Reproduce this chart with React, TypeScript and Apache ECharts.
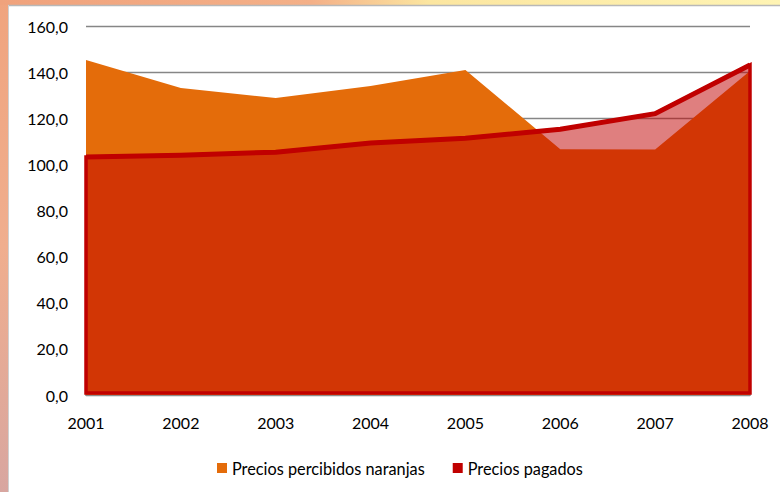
import React, { useEffect, useRef } from "react";
import * as echarts from "echarts";

const years = ["2001", "2002", "2003", "2004", "2005", "2006", "2007", "2008"];
const percibidosNaranjas = [145.3, 133.1, 128.8, 134.0, 140.9, 106.6, 106.4, 140.5];
const preciosPagados = [103.2, 104.0, 105.3, 109.3, 111.3, 115.2, 122.0, 143.1];
const yTicks = { min: 0, max: 160, interval: 20 };

export default function App() {
  const ref = useRef<HTMLDivElement>(null);
  useEffect(() => {
    if (!ref.current) return;
    const chart = echarts.init(ref.current, null, { renderer: "svg" });
    const font = "Lato, 'Open Sans', sans-serif";
    chart.setOption({
      animation: false,
      backgroundColor: "#ffffff",
      textStyle: { fontFamily: font },
      grid: { left: 86, right: 30, top: 26, bottom: 97, containLabel: false },
      legend: {
        left: 212,
        top: 455,
        itemWidth: 10,
        itemHeight: 10,
        itemGap: 28,
        icon: "rect",
        textStyle: { fontSize: 16.3, color: "#000", fontFamily: font },
        data: [
          { name: "Precios percibidos naranjas", itemStyle: { color: "#E46C0A" } },
          { name: "Precios pagados", itemStyle: { color: "#C00000" } },
        ],
      },
      xAxis: {
        type: "category",
        data: years,
        boundaryGap: false,
        axisLine: { show: true, lineStyle: { color: "#8c8c8c", width: 2 } },
        axisTick: { show: false },
        axisLabel: { color: "#000", fontSize: 16, margin: 19, fontFamily: font },
        splitLine: { show: false },
      },
      yAxis: {
        type: "value",
        min: yTicks.min,
        max: yTicks.max,
        interval: yTicks.interval,
        axisLine: { show: false },
        axisTick: { show: false },
        axisLabel: {
          color: "#000",
          fontSize: 16,
          margin: 18,
          fontFamily: font,
          formatter: (v: number) => v.toFixed(1).replace(".", ","),
        },
        splitLine: { show: true, lineStyle: { color: "#868686", width: 1.3 } },
      },
      series: [
        {
          name: "Precios percibidos naranjas",
          type: "line",
          data: percibidosNaranjas,
          symbol: "none",
          lineStyle: { width: 0, color: "#E46C0A" },
          itemStyle: { color: "#E46C0A" },
          areaStyle: { color: "#E46C0A", opacity: 1 },
          z: 2,
        },
        {
          name: "Precios pagados",
          type: "custom",
          data: [0],
          itemStyle: { color: "#C00000" },
          z: 3,
          renderItem: (params: any, api: any) => {
            const pts: number[][] = preciosPagados.map((v, i) => api.coord([i, v]));
            const last = preciosPagados.length - 1;
            const base0 = api.coord([0, 0]);
            const baseN = api.coord([last, 0]);
            const poly = [...pts, [baseN[0], baseN[1] - 2], [base0[0], base0[1] - 2]];
            return {
              type: "group",
              children: [
                {
                  type: "polygon",
                  shape: { points: poly },
                  style: {
                    fill: "rgba(192,0,0,0.5)",
                    stroke: "#C00000",
                    lineWidth: 3.5,
                    lineJoin: "miter",
                  },
                },
                {
                  type: "polyline",
                  shape: { points: pts },
                  style: {
                    fill: "none",
                    stroke: "#C00000",
                    lineWidth: 5,
                    lineJoin: "miter",
                  },
                },
              ],
            };
          },
        },
      ],
      graphic: [
        {
          type: "rect",
          shape: { x: 0, y: 0, width: 8, height: 492 },
          style: {
            fill: new echarts.graphic.LinearGradient(0, 0, 0, 1, [
              { offset: 0, color: "#F0A47E" },
              { offset: 0.5, color: "#F0AE8E" },
              { offset: 1, color: "#D8A6A0" },
            ]),
          },
          z: 0,
        },
        {
          type: "rect",
          shape: { x: 0, y: 0, width: 780, height: 5 },
          style: {
            fill: new echarts.graphic.LinearGradient(0, 0, 1, 0, [
              { offset: 0, color: "#F0A27C" },
              { offset: 0.4, color: "#F4B088" },
              { offset: 0.55, color: "#FCE6A0" },
              { offset: 1, color: "#FFF4B4" },
            ]),
          },
          z: 0,
        },
        {
          type: "line",
          shape: { x1: 8, y1: 5.5, x2: 780, y2: 5.5 },
          style: { stroke: "#b8b8b8", lineWidth: 1.5 },
          z: 1,
        },
        {
          type: "line",
          shape: { x1: 8.5, y1: 5, x2: 8.5, y2: 492 },
          style: { stroke: "#d0d0d0", lineWidth: 1 },
          z: 1,
        },
      ],
    });
    return () => chart.dispose();
  }, []);
  return (
    <div
      ref={ref}
      style={{ position: "absolute", left: 0, top: 0, width: 780, height: 492 }}
    />
  );
}
